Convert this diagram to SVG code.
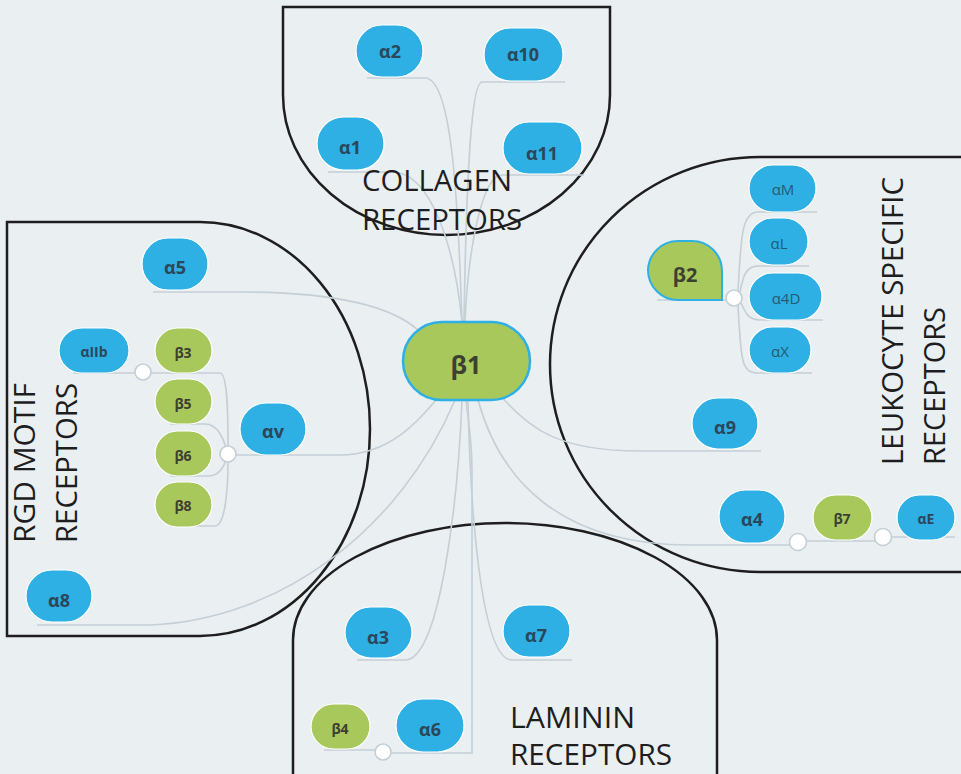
<svg xmlns="http://www.w3.org/2000/svg" width="961" height="774" viewBox="0 0 961 774">
<style>
.region{fill:none;stroke:#1e1e1e;stroke-width:2.5}
.conn{fill:none;stroke:#c4cfd6;stroke-width:1.6}
.blue{fill:#2eb0e4;stroke:#ffffff;stroke-width:1.2}
.green{fill:#a8c85c;stroke:#ffffff;stroke-width:1.2}
.jn{fill:#ffffff;stroke:#c4cfd6;stroke-width:1.6}
.lb{font-family:"Open Sans","Liberation Sans",sans-serif;font-weight:700;fill:#2b4759;text-anchor:middle}
.lg{font-family:"Open Sans","Liberation Sans",sans-serif;font-weight:700;fill:#3d4030;text-anchor:middle}
.ll{font-family:"Open Sans","Liberation Sans",sans-serif;font-weight:400;fill:#265a72;text-anchor:middle}
.cap{font-family:"Open Sans","Liberation Sans",sans-serif;font-size:29px;fill:#1e1e1e}
</style>
<rect x="0" y="0" width="961" height="774" fill="#eaeff2"/>

<g id="regions">
<path class="region" d="M283,7 H610 V95 A163.5,140 0 0 1 283,95 Z"/>
<path class="region" d="M7,222 H200 A170,207 0 0 1 200,636 H7 Z"/>
<path class="region" d="M962,157 H760 A210,207.5 0 0 0 760,572 H962"/>
<path class="region" d="M293,776 V640 A212,117 0 0 1 717,640 V776"/>
</g>

<g id="connectors">
<path class="conn" d="M367,78 H425 C452,78 458,200 462,322"/>
<path class="conn" d="M565,82 H482 C470,82 466,200 464,322"/>
<path class="conn" d="M328,172 H392 C432,172 455,250 462,322"/>
<path class="conn" d="M584,175 H502 C482,175 468,250 465,322"/>
<path class="conn" d="M153,292 H240 C330,292 390,305 418,330"/>
<path class="conn" d="M236,455 H340 C390,455 420,420 440,395"/>
<path class="conn" d="M37,625 H150 C280,620 400,530 455,400"/>
<path class="conn" d="M500,395 C530,430 560,451 640,451 H761"/>
<path class="conn" d="M478,400 C500,480 560,545 690,545 H790"/>
<path class="conn" d="M357,660 H405 C440,660 458,500 462,400"/>
<path class="conn" d="M572,660 H512 C480,660 470,500 468,400"/>
<path class="conn" d="M391,753 H472 V470 C472,440 468,420 466,400"/>
<path class="conn" d="M73,373 H135"/>
<path class="conn" d="M151,373 H220 C228,373 228,420 228,446"/>
<path class="conn" d="M170,424 H205 C218,424 224,440 226,448"/>
<path class="conn" d="M170,476 H208 C220,476 224,466 226,460"/>
<path class="conn" d="M170,526 H215 C225,526 228,490 228,462"/>
<path class="conn" d="M657,300 H726"/>
<path class="conn" d="M738,291 C741,240 741,212 758,212 H817"/>
<path class="conn" d="M740,292 C743,276 746,266 758,266 H809"/>
<path class="conn" d="M741,303 C746,314 749,320 760,320 H823"/>
<path class="conn" d="M738,305 C741,360 741,373 758,373 H812"/>
<path class="conn" d="M806,541 H875"/>
<path class="conn" d="M891,537 H955"/>
<path class="conn" d="M324,750 H375"/>
</g>

<g id="n-b1"><rect x="403" y="322" width="127" height="78" rx="39" fill="#a8c85c" stroke="#2eb0e4" stroke-width="2.5"/><text class="lg" x="466" y="374" font-size="25" fill="#1e2a30">β1</text></g>

<g id="n-a2"><rect class="blue" x="356" y="25" width="67" height="52" rx="26"/><text class="lb" x="390" y="58" font-size="18">α2</text></g>
<g id="n-a10"><rect class="blue" x="484" y="28" width="79" height="53" rx="26.5"/><text class="lb" x="523" y="61" font-size="18">α10</text></g>
<g id="n-a1"><rect class="blue" x="317" y="117" width="67" height="53" rx="26.5"/><text class="lb" x="350" y="154" font-size="18" fill="#141e24">α1</text></g>
<g id="n-a11"><rect class="blue" x="503" y="122" width="79" height="52" rx="26"/><text class="lb" x="542" y="160" font-size="18">α11</text></g>

<g id="n-a5"><rect class="blue" x="142" y="238" width="66" height="52" rx="26"/><text class="lb" x="175" y="274" font-size="18">α5</text></g>
<g id="n-aIIb"><rect class="blue" x="59" y="328" width="70" height="45" rx="22.5"/><text class="lb" x="94" y="357" font-size="14">αIIb</text></g>
<g id="j-aIIb"><circle class="jn" cx="143" cy="372" r="8"/></g>
<g id="n-b3"><rect class="green" x="155" y="328" width="57" height="45" rx="22.5"/><text class="lg" x="183" y="358" font-size="14">β3</text></g>
<g id="n-b5"><rect class="green" x="155" y="379" width="57" height="45" rx="22.5"/><text class="lg" x="183" y="409" font-size="14">β5</text></g>
<g id="n-b6"><rect class="green" x="155" y="431" width="57" height="45" rx="22.5"/><text class="lg" x="183" y="461" font-size="14" fill="#505a48">β6</text></g>
<g id="n-b8"><rect class="green" x="155" y="482" width="57" height="45" rx="22.5"/><text class="lg" x="183" y="511" font-size="14" fill="#505a48">β8</text></g>
<g id="j-av"><circle class="jn" cx="228" cy="454" r="8"/></g>
<g id="n-av"><rect class="blue" x="240" y="403" width="66" height="52" rx="26"/><text class="lb" x="273" y="438" font-size="18">αv</text></g>
<g id="n-a8"><rect class="blue" x="26" y="570" width="66" height="52" rx="26"/><text class="lb" x="59" y="607" font-size="18">α8</text></g>

<g id="n-b2"><path d="M678,241 H692 A30,30 0 0 1 722,271 V300 H678 A30,30 0 0 1 648,270 A30,30 0 0 1 678,241 Z" fill="#a8c85c" stroke="#2eb0e4" stroke-width="2"/><text class="lg" x="685" y="282" font-size="20" font-weight="600" fill="#3f4430">β2</text></g>
<g id="j-b2"><circle class="jn" cx="734" cy="298" r="8"/></g>
<g id="n-aM"><rect class="blue" x="749" y="165" width="67" height="47" rx="23.5"/><text class="ll" x="783" y="195" font-size="15">αM</text></g>
<g id="n-aL"><rect class="blue" x="749" y="218" width="59" height="47" rx="23.5"/><text class="ll" x="779" y="249" font-size="15">αL</text></g>
<g id="n-a4D"><rect class="blue" x="749" y="273" width="73" height="47" rx="23.5"/><text class="ll" x="786" y="304" font-size="15">α4D</text></g>
<g id="n-aX"><rect class="blue" x="749" y="327" width="62" height="46" rx="23"/><text class="ll" x="780" y="357" font-size="15">αX</text></g>
<g id="n-a9"><rect class="blue" x="692" y="398" width="66" height="51" rx="25.5"/><text class="lb" x="725" y="434" font-size="18">α9</text></g>
<g id="n-a4"><rect class="blue" x="719" y="490" width="66" height="53" rx="26.5"/><text class="lb" x="752" y="526" font-size="18">α4</text></g>
<g id="j-a4"><circle class="jn" cx="798" cy="542" r="8.5"/></g>
<g id="n-b7"><rect class="green" x="813" y="495" width="59" height="45" rx="22.5"/><text class="lg" x="842" y="524" font-size="14" fill="#505a48">β7</text></g>
<g id="j-b7"><circle class="jn" cx="883" cy="537" r="8.5"/></g>
<g id="n-aE"><rect class="blue" x="897" y="495" width="58" height="45" rx="22.5"/><text class="lb" x="926" y="524" font-size="14">αE</text></g>

<g id="n-a3"><rect class="blue" x="345" y="607" width="67" height="51" rx="25.5"/><text class="lb" x="378" y="644" font-size="18">α3</text></g>
<g id="n-a7"><rect class="blue" x="503" y="605" width="67" height="52" rx="26"/><text class="lb" x="536" y="642" font-size="18">α7</text></g>
<g id="n-b4"><rect class="green" x="311" y="704" width="59" height="45" rx="22.5"/><text class="lg" x="340" y="734" font-size="14" fill="#505a48">β4</text></g>
<g id="j-b4"><circle class="jn" cx="383" cy="752" r="8"/></g>
<g id="n-a6"><rect class="blue" x="396" y="699" width="68" height="53" rx="26.5"/><text class="lb" x="430" y="736" font-size="18">α6</text></g>

<g id="labels">
<text class="cap" x="362" y="191" textLength="150" lengthAdjust="spacingAndGlyphs">COLLAGEN</text>
<text class="cap" x="362" y="230" textLength="160" lengthAdjust="spacingAndGlyphs">RECEPTORS</text>
<text class="cap" transform="translate(35,543) rotate(-90)" textLength="160" lengthAdjust="spacingAndGlyphs">RGD MOTIF</text>
<text class="cap" transform="translate(77,543) rotate(-90)" textLength="160" lengthAdjust="spacingAndGlyphs">RECEPTORS</text>
<text class="cap" transform="translate(903,465) rotate(-90)" textLength="288" lengthAdjust="spacingAndGlyphs">LEUKOCYTE SPECIFIC</text>
<text class="cap" transform="translate(945,465) rotate(-90)" textLength="158" lengthAdjust="spacingAndGlyphs">RECEPTORS</text>
<text class="cap" x="510" y="728" textLength="125" lengthAdjust="spacingAndGlyphs">LAMININ</text>
<text class="cap" x="510" y="765" textLength="162" lengthAdjust="spacingAndGlyphs">RECEPTORS</text>
</g>
</svg>
